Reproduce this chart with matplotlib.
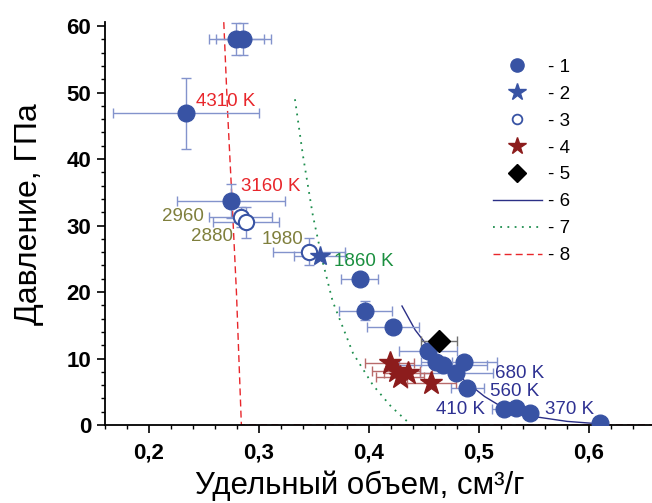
import matplotlib
matplotlib.use("Agg")
import matplotlib.pyplot as plt
from matplotlib.lines import Line2D
from matplotlib.ticker import MultipleLocator, FuncFormatter

plt.rcParams['font.family'] = ['Liberation Sans', 'DejaVu Sans']

# 1 - filled circles: volume, pressure, errors
v1 = [0.2795, 0.2855, 0.2335, 0.2743, 0.3915, 0.3967, 0.4218, 0.4539, 0.4613,
      0.4673, 0.4864, 0.4794, 0.4894, 0.5231, 0.5340, 0.5467, 0.6103]
p1 = [58.0, 58.0, 46.9, 33.7, 21.9, 17.2, 14.7, 11.2, 9.5,
      9.0, 9.5, 7.8, 5.5, 2.35, 2.5, 1.75, 0.35]
dv1 = [0.025, 0.025, 0.0665, 0.049, 0.017, 0.024, 0.024, 0.0265, 0.014,
       0.040, 0.030, 0.033, 0.015, 0.011, 0.0, 0.0, 0.0]
dp1 = [2.4, 2.4, 5.35, 2.6, 0.0, 1.4, 0.0, 0.0, 0.0,
       0.0, 0.0, 0.0, 0.0, 0.0, 0.0, 0.0, 0.0]

# 2 - blue star
v2 = [0.3552]
p2 = [25.4]
dv2 = [0.023]

# 3 - open circles
v3 = [0.2834, 0.2885, 0.3455]
p3 = [31.3, 30.5, 26.1]
dv3 = [0.0285, 0.030, 0.033]
dp3 = [1.5, 2.3, 2.0]

# 4 - dark red stars
v4 = [0.4188, 0.4245, 0.4280, 0.4355, 0.4567]
p4 = [9.3, 8.2, 7.3, 7.8, 6.3]
dv4 = [0.022, 0.022, 0.022, 0.022, 0.022]

# 5 - diamond
v5 = [0.4636]
p5 = [12.6]
dv5 = [0.016]

# 6, 7, 8 - curves
v6 = [0.430, 0.442, 0.455, 0.470, 0.486, 0.505, 0.519, 0.549, 0.580, 0.604]
p6 = [17.9, 14.3, 11.5, 9.0, 6.8, 4.3, 2.9, 1.3, 0.55, 0.25]
v7 = [0.3327, 0.340, 0.349, 0.358, 0.367, 0.3855, 0.4036, 0.420, 0.437]
p7 = [49.0, 40.5, 31.5, 24.5, 18.6, 10.8, 6.0, 2.8, 0.2]
v8 = [0.268, 0.2715, 0.2755, 0.2795, 0.284, 0.66]
p8 = [60.6, 47.0, 33.8, 20.0, 0.0, 0.0]

# temperature labels
t_text = ["4310 K", "3160 K", "2960", "2880", "1980", "1860 K", "680 K", "560 K", "410 K", "370 K"]
t_v = [0.2426, 0.2835, 0.2497, 0.2764, 0.340, 0.368, 0.515, 0.5097, 0.4613, 0.5597]
t_p = [48.7, 35.9, 31.3, 28.3, 27.9, 24.6, 7.8, 5.0, 2.35, 2.35]
t_ha = ["left", "left", "right", "right", "right", "left", "left", "left", "left", "left"]
t_col = ["#e8262b", "#e8262b", "#7f7f3c", "#7f7f3c", "#7f7f3c", "#1a8f3f",
         "#2e3192", "#2e3192", "#2e3192", "#2e3192"]

blue = "#3853a4"
blue_err = "#8393cc"
red = "#8c1c1c"
red_err = "#b86a6a"

fig = plt.figure(figsize=(6.52, 5.03), dpi=100)
ax = fig.add_axes([0.161, 0.155, 0.8436, 0.801])

ax.plot(v8, p8, color="#e8262b", ls=(0, (5, 3)), lw=1.0, zorder=2)
ax.plot(v7, p7, color="#1f8f4f", ls=(0, (1, 3)), lw=1.3, zorder=2)
ax.plot(v6, p6, color="#2b2f86", lw=1.0, zorder=2)

ax.errorbar(v1, p1, xerr=dv1, yerr=dp1, fmt='none', ecolor=blue_err, elinewidth=1, capsize=3.5, zorder=3)
ax.errorbar(v3, p3, xerr=dv3, yerr=dp3, fmt='none', ecolor=blue_err, elinewidth=1, capsize=3.5, zorder=3)
ax.errorbar(v2, p2, xerr=dv2, fmt='none', ecolor=blue_err, elinewidth=1, capsize=3.5, zorder=3)
ax.errorbar(v4, p4, xerr=dv4, fmt='none', ecolor=red_err, elinewidth=1, capsize=3.5, zorder=3)
ax.errorbar(v5, p5, xerr=dv5, fmt='none', ecolor="#707070", elinewidth=1, capsize=3.5, zorder=3)

ax.plot(v1, p1, 'o', ms=12, color=blue, mec=blue, zorder=4)
ax.plot(v3, p3, 'o', ms=11, mfc='white', mec=blue, mew=1.5, zorder=4)
ax.plot(v2, p2, '*', ms=15, color=blue, zorder=5)
ax.plot(v4, p4, '*', ms=17, color=red, zorder=5)
ax.plot(v5, p5, 'D', ms=11.5, color='black', zorder=5)

for txt, x, y, ha, c in zip(t_text, t_v, t_p, t_ha, t_col):
    ax.text(x, y, txt, ha=ha, va='center', fontsize=13.5, color=c, zorder=6)

ax.set_xlim(0.16, 0.66)
ax.set_ylim(0, 60.6)
ax.xaxis.set_major_locator(MultipleLocator(0.1))
ax.xaxis.set_minor_locator(MultipleLocator(0.02))
ax.yaxis.set_major_locator(MultipleLocator(10))
ax.yaxis.set_minor_locator(MultipleLocator(2))
ax.xaxis.set_major_formatter(FuncFormatter(lambda x, pos: ("%.1f" % x).replace('.', ',')))
ax.yaxis.set_major_formatter(FuncFormatter(lambda y, pos: "%d" % y))

for s in ['top', 'right']:
    ax.spines[s].set_visible(False)
for s in ['left', 'bottom']:
    ax.spines[s].set_linewidth(1.3)
ax.tick_params(which='major', length=5.5, width=1.2)
ax.tick_params(which='minor', length=3, width=1.0)
ax.tick_params(axis='x', which='major', labelsize=16, pad=7)
ax.tick_params(axis='y', which='major', labelsize=16, pad=4.5)
for lab in ax.get_xticklabels() + ax.get_yticklabels():
    lab.set_fontweight('bold')

ax.set_xlabel("Удельный объем, см³/г", fontsize=22.5)
ax.xaxis.set_label_coords(0.4636, -0.112)
ax.set_ylabel("Давление, ГПа", fontsize=23)
ax.yaxis.set_label_coords(-0.111, 0.5236)

handles = [
    Line2D([], [], ls='none', marker='o', ms=9.5, color=blue),
    Line2D([], [], ls='none', marker='*', ms=13, color=blue),
    Line2D([], [], ls='none', marker='o', ms=7, mfc='white', mec=blue, mew=1.3),
    Line2D([], [], ls='none', marker='*', ms=13, color=red),
    Line2D([], [], ls='none', marker='D', ms=9, color='black'),
    Line2D([], [], color="#2b2f86", lw=1.0),
    Line2D([], [], color="#1f8f4f", ls=(0, (1, 3)), lw=1.3),
    Line2D([], [], color="#e8262b", ls=(0, (5, 3)), lw=1.0),
]
labels = ["- 1", "- 2", "- 3", "- 4", "- 5", "- 6", "- 7", "- 8"]
fig.legend(handles, labels, loc='upper left', bbox_to_anchor=(0.756, 0.883),
           frameon=False, fontsize=13.5, handlelength=2.6, handletextpad=0.32,
           labelspacing=0.52, borderpad=0, borderaxespad=0)

fig.savefig("out.png", dpi=100)
